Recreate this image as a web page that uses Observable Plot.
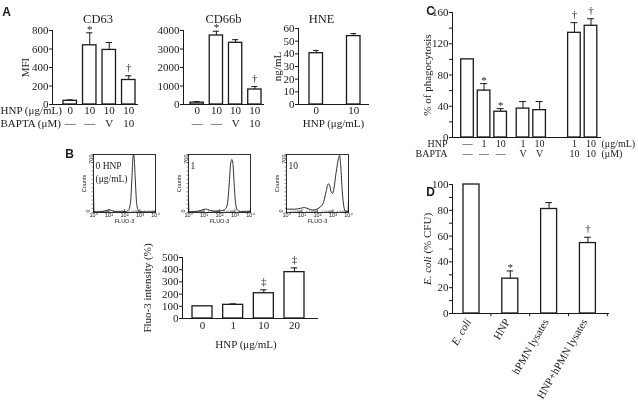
<!DOCTYPE html>
<html><head><meta charset="utf-8">
<script src="https://cdn.jsdelivr.net/npm/d3@7"></script>
<script src="https://cdn.jsdelivr.net/npm/@observablehq/plot@0.6"></script>
<style>
body{margin:0;background:#fff}
#fig{position:relative;width:638px;height:411px;overflow:hidden;background:#fff}
#fig svg{position:absolute;left:0;top:0;overflow:visible;will-change:transform}
</style></head><body><div id="fig"></div>
<script>
// ---------- data ----------
// Panel A
const aCats = ["c1","c2","c3","c4"];
const aHnp = ["0","10","10","10"];
const aBapta = ["—","—","V","10"];
const cd63Val = [40, 640, 590, 265];
const cd63Err = [10, 135, 80, 45];
const cd63Sig = ["", "*", "", "†"];
const cd63Ticks = [0, 200, 400, 600, 800];
const cd66Val = [100, 3730, 3335, 810];
const cd66Err = [60, 230, 170, 160];
const cd66Sig = ["", "*", "", "†"];
const cd66Ticks = [0, 1000, 2000, 3000, 4000];
const hneCats = ["0", "10"];
const hneVal = [40.5, 54];
const hneErr = [2.2, 2];
const hneTicks = [0, 10, 20, 30, 40, 50, 60];
// Panel B
const bCats = ["0", "1", "10", "20"];
const bVal = [100, 112, 207, 380];
const bErr = [0, 8, 28, 35];
const bSig = ["", "", "‡", "‡"];
const bTicks = [0, 100, 200, 300, 400, 500];
const histLabels = ["0 HNP\n(μg/mL)", "1", "10"];
const histXLabels = ["10⁰", "10¹", "10²", "10³", "10⁴"];
// [log10 FLUO-3, counts]
const hist0 = [[0,340],[0.03,14],[0.3,8],[0.6,12],[0.8,22],[1.0,32],[1.2,22],[1.45,10],[1.8,8],[2.1,12],[2.28,35],[2.4,150],[2.48,420],[2.54,650],[2.58,700],[2.63,640],[2.7,380],[2.78,120],[2.88,30],[3.05,10],[3.5,6],[4,6]];
const hist1 = [[0,180],[0.03,10],[0.4,10],[0.8,25],[1.1,42],[1.35,28],[1.7,15],[2.0,18],[2.3,30],[2.5,90],[2.62,330],[2.72,590],[2.8,640],[2.88,560],[2.96,300],[3.05,100],[3.15,30],[3.4,10],[3.8,8],[3.98,8],[4,40]];
const hist10 = [[0,55],[0.05,40],[0.5,40],[0.9,50],[1.15,60],[1.4,45],[1.7,30],[2.0,45],[2.2,70],[2.4,130],[2.55,250],[2.7,345],[2.78,330],[2.9,240],[2.97,230],[3.05,280],[3.2,480],[3.35,650],[3.42,690],[3.5,560],[3.6,250],[3.7,70],[3.8,15],[3.97,10],[4,150]];
// Panel C
const cHnp = ["—","1","10","1","10","1","10"];
const cBapta = ["—","—","—","V","V","10","10"];
const cGroup = [0,0,0,1,1,2,2];
const cVal = [100, 60, 33, 37, 35, 134, 143];
const cErr = [0, 9, 4, 9, 11, 13, 9];
const cSig = ["", "*", "*", "", "", "†", "†"];
const cTicks = [0, 20, 40, 60, 80, 100, 120, 140, 160];
// Panel D
const dCats = ["E. coli", "HNP", "hPMN lysates", "HNP+hPMN lysates"];
const dVal = [100, 27, 81, 54.6];
const dErr = [0, 6, 5, 4.5];
const dSig = ["", "*", "", "†"];
const dTicks = [0, 10, 20, 30, 40, 50, 60, 70, 80, 90, 100];

// ---------- helpers ----------
const W = 638, H = 411;
const SERIF = "Liberation Serif";
const SANS = "Liberation Sans";
const INK = "#1a1a1a";
const fig = document.getElementById("fig");
function M(l, r, t, b) { return {marginLeft: l, marginRight: W - r, marginTop: t, marginBottom: H - b}; }
function mk(opts) {
  const p = Plot.plot({width: W, height: H,
    style: "background:transparent;font-family:'Liberation Serif','Times New Roman',serif;font-size:11px;color:#1a1a1a;overflow:visible",
    ...opts});
  fig.appendChild(p);
  return p;
}
const T = (o) => ({fontFamily: SERIF, fontSize: 11, fill: INK, textAnchor: "middle", ...o});
const symDy = {"*": 0, "†": -5, "‡": -5};
function rowsOf(cats, vals, errs, sigs) {
  return cats.map((c, i) => ({cat: c, val: vals[i], err: errs[i], top: vals[i] + errs[i], sig: sigs ? sigs[i] : ""}));
}
function barMarks(rows, capInset) {
  const e = rows.filter(d => d.err > 0);
  const out = [
    Plot.barY(rows, {x: "cat", y: "val", fill: "white", stroke: INK, strokeWidth: 1.3}),
    Plot.ruleX(e, {x: "cat", y1: "val", y2: "top", stroke: INK, strokeWidth: 1}),
    Plot.tickY(e, {x: "cat", y: "top", stroke: INK, strokeWidth: 1, insetLeft: capInset, insetRight: capInset})
  ];
  for (const s of ["*", "†", "‡"]) {
    out.push(Plot.text(rows.filter(d => d.sig === s), T({x: "cat", y: "top", text: "sig", lineAnchor: "bottom", dy: symDy[s]})));
  }
  return out;
}
function axesMarks(ticks, fmt) {
  return [
    Plot.axisY({ticks, tickSize: 3, tickPadding: 1, tickFormat: fmt || (d => String(d)), label: null, fontSize: 11, fontFamily: SERIF, stroke: INK, fill: INK}),
    Plot.frame({anchor: "left", stroke: INK, strokeWidth: 1}),
    Plot.frame({anchor: "bottom", stroke: INK, strokeWidth: 1})
  ];
}
const letter = (t, o) => Plot.text([t], T({frameAnchor: "top-left", fontFamily: SANS, fontWeight: "bold", fontSize: 12, ...o}));

// ---------- Panel A: CD63 ----------
mk({
  ...M(52, 137, 30, 104),
  x: {type: "band", domain: aCats, range: [63, 135], paddingInner: 0.31, paddingOuter: 0, round: false, axis: null},
  y: {domain: [0, 800], axis: null},
  marks: [
    ...barMarks(rowsOf(aCats, cd63Val, cd63Err, cd63Sig), 3.6),
    ...axesMarks(cd63Ticks),
    Plot.text(aCats, T({x: d => d, text: (d, i) => aHnp[i], frameAnchor: "bottom", dy: 9})),
    Plot.text(aCats, T({x: d => d, text: (d, i) => aBapta[i], frameAnchor: "bottom", dy: 22})),
    Plot.text(["HNP (μg/mL)"], T({frameAnchor: "bottom-left", dx: -52, dy: 9, textAnchor: "start"})),
    Plot.text(["BAPTA (μM)"], T({frameAnchor: "bottom-left", dx: -52, dy: 22, textAnchor: "start"})),
    Plot.text(["CD63"], T({frameAnchor: "top", dx: 3, dy: -16, fontSize: 12.5})),
    Plot.text(["MFI"], T({frameAnchor: "left", dx: -27, rotate: -90})),
    letter("A", {dx: -46, dy: -23})
  ]
});

// ---------- Panel A: CD66b ----------
mk({
  ...M(183, 263, 30, 104),
  x: {type: "band", domain: aCats, range: [190, 261], paddingInner: 0.31, paddingOuter: 0, round: false, axis: null},
  y: {domain: [0, 4000], axis: null},
  marks: [
    ...barMarks(rowsOf(aCats, cd66Val, cd66Err, cd66Sig), 3.6),
    ...axesMarks(cd66Ticks),
    Plot.text(aCats, T({x: d => d, text: (d, i) => aHnp[i], frameAnchor: "bottom", dy: 9})),
    Plot.text(aCats, T({x: d => d, text: (d, i) => aBapta[i], frameAnchor: "bottom", dy: 22})),
    Plot.text(["CD66b"], T({frameAnchor: "top", dx: 0, dy: -16, fontSize: 12.5}))
  ]
});

// ---------- Panel A: HNE ----------
mk({
  ...M(298, 368, 28, 104),
  x: {type: "band", domain: hneCats, range: [309, 360], paddingInner: 0.64, paddingOuter: 0, round: false, axis: null},
  y: {domain: [0, 60], axis: null},
  marks: [
    ...barMarks(rowsOf(hneCats, hneVal, hneErr), 4),
    ...axesMarks(hneTicks),
    Plot.text(hneCats, T({x: d => d, text: d => d, frameAnchor: "bottom", dy: 9})),
    Plot.text(["HNP (μg/mL)"], T({frameAnchor: "bottom", dy: 22})),
    Plot.text(["HNE"], T({frameAnchor: "top", dx: -12, dy: -14, fontSize: 12.5})),
    Plot.text(["ng/mL"], T({frameAnchor: "left", dx: -21, rotate: -90}))
  ]
});

// ---------- Panel B: histograms ----------
const majorX = [0, 1, 2, 3, 4];
const minorX = [];
for (let n = 0; n < 4; n++) for (let k = 2; k <= 9; k++) minorX.push(n + Math.log10(k));
const yMinor = d3.range(0, 701, 50);
const S = (o) => ({fontFamily: SANS, fontSize: 5.5, fill: INK, textAnchor: "middle", ...o});
function hist(data, l, r, t, b, label, extra) {
  mk({
    ...M(l, r, t, b),
    x: {domain: [0, 4], axis: null},
    y: {domain: [0, 700], axis: null},
    marks: [
      Plot.ruleX(minorX, {x: d => d, y1: 0, y2: 18, stroke: INK, strokeWidth: 0.5}),
      Plot.ruleX(majorX, {x: d => d, y1: 0, y2: 36, stroke: INK, strokeWidth: 0.6}),
      Plot.ruleY(yMinor, {y: d => d, x1: -0.09, x2: 0, stroke: INK, strokeWidth: 0.5}),
      Plot.line(data, {x: d => d[0], y: d => d[1], curve: "monotone-x", stroke: INK, strokeWidth: 0.9}),
      Plot.frame({stroke: INK, strokeWidth: 0.9}),
      Plot.text(majorX, S({x: d => d, text: (d, i) => histXLabels[i], frameAnchor: "bottom", dy: 4})),
      Plot.text(["FLUO-3"], S({frameAnchor: "bottom", dy: 10})),
      Plot.text(["700"], S({frameAnchor: "top-left", dx: -4, rotate: -90, textAnchor: "end"})),
      Plot.text(["0"], S({frameAnchor: "bottom-left", dx: -4, rotate: -90, textAnchor: "start"})),
      Plot.text(["Counts"], S({frameAnchor: "left", dx: -9, rotate: -90})),
      Plot.text([label], T({frameAnchor: "top-left", dx: 2, dy: 5, lineAnchor: "top", textAnchor: "start", fontSize: 9.5, lineHeight: 1.4})),
      ...(extra || [])
    ]
  });
}
hist(hist0, 93, 155, 154, 212, histLabels[0], [letter("B", {dx: -24, dy: -5})]);
hist(hist1, 188, 250, 154, 212, histLabels[1]);
hist(hist10, 286, 348, 154, 212, histLabels[2]);

// ---------- Panel B: Fluo-3 bars ----------
mk({
  ...M(182, 317, 257, 318),
  x: {type: "band", domain: bCats, range: [192, 304], paddingInner: 0.348, paddingOuter: 0, round: false, axis: null},
  y: {domain: [0, 500], axis: null},
  marks: [
    ...barMarks(rowsOf(bCats, bVal, bErr, bSig), 6.7),
    ...axesMarks(bTicks),
    Plot.text(bCats, T({x: d => d, text: d => d, frameAnchor: "bottom", dy: 10})),
    Plot.text(["HNP (μg/mL)"], T({frameAnchor: "bottom", dx: -4, dy: 29})),
    Plot.text(["Fluo-3 intensity (%)"], T({frameAnchor: "left", dx: -35, rotate: -90}))
  ]
});

// ---------- Panel C ----------
const cGapOffset = [0, 0.35, 1.45];
const cRows = cVal.map((v, i) => ({pos: i + cGapOffset[cGroup[i]], val: v, err: cErr[i], top: v + cErr[i], sig: cSig[i], hnp: cHnp[i], bapta: cBapta[i]}));
const cE = cRows.filter(d => d.err > 0);
mk({
  ...M(452, 600, 12, 137),
  x: {domain: [0, 7.45], range: [467, 590.5], axis: null},
  y: {domain: [0, 160], axis: null},
  marks: [
    Plot.rectY(cRows, {x1: d => d.pos - 0.38, x2: d => d.pos + 0.38, y1: 0, y2: "val", fill: "white", stroke: INK, strokeWidth: 1.3}),
    Plot.ruleX(cE, {x: "pos", y1: "val", y2: "top", stroke: INK, strokeWidth: 1}),
    Plot.ruleY(cE, {y: "top", x1: d => d.pos - 0.21, x2: d => d.pos + 0.21, stroke: INK, strokeWidth: 1}),
    Plot.text(cRows.filter(d => d.sig === "*"), T({x: "pos", y: "top", text: "sig", lineAnchor: "bottom", dy: symDy["*"]})),
    Plot.text(cRows.filter(d => d.sig === "†"), T({x: "pos", y: "top", text: "sig", lineAnchor: "bottom", dy: symDy["†"]})),
    ...axesMarks(cTicks, d => d % 40 === 0 ? String(d) : ""),
    Plot.text(cRows, T({x: "pos", text: "hnp", frameAnchor: "bottom", dy: 9, fontSize: 10})),
    Plot.text(cRows, T({x: "pos", text: "bapta", frameAnchor: "bottom", dy: 19, fontSize: 10})),
    Plot.text(["HNP"], T({frameAnchor: "bottom-left", dx: -5, dy: 9, textAnchor: "end", fontSize: 10})),
    Plot.text(["BAPTA"], T({frameAnchor: "bottom-left", dx: -5, dy: 19, textAnchor: "end", fontSize: 10})),
    Plot.text(["(μg/mL)"], T({frameAnchor: "bottom-right", dx: 1, dy: 9, textAnchor: "start", fontSize: 10})),
    Plot.text(["(μM)"], T({frameAnchor: "bottom-right", dx: 1, dy: 19, textAnchor: "start", fontSize: 10})),
    Plot.text(["% of phagocytosis"], T({frameAnchor: "left", dx: -25, rotate: -90})),
    letter("C", {dx: -22, dy: -6})
  ]
});

// ---------- Panel D ----------
const dRange = [463, 595.4], dPI = 0.588;
const dStep = (dRange[1] - dRange[0]) / (dCats.length - dPI);
const dPlot = mk({
  ...M(452, 608, 184, 313),
  x: {type: "band", domain: dCats, range: dRange, paddingInner: dPI, paddingOuter: 0, round: false, axis: null},
  y: {domain: [0, 100], axis: null},
  marks: [
    ...barMarks(rowsOf(dCats, dVal, dErr, dSig), 4.7),
    ...axesMarks(dTicks, d => d % 20 === 0 ? String(d) : ""),
    Plot.ruleX(dCats, {x: d => d, dx: dStep / 2, y1: 0, y2: -2.5, stroke: INK, strokeWidth: 1}),
    Plot.text(dCats.filter(d => d === "E. coli"), T({x: d => d, text: d => d, frameAnchor: "bottom", dy: 8, rotate: -60, textAnchor: "end", fontStyle: "italic"})),
    Plot.text(dCats.filter(d => d !== "E. coli"), T({x: d => d, text: d => d, frameAnchor: "bottom", dy: 8, rotate: -60, textAnchor: "end"})),
    Plot.text(["E. coli (% CFU)"], T({frameAnchor: "left", dx: -25, rotate: -90})),
    letter("D", {dx: -22, dy: 3})
  ]
});
for (const t of dPlot.querySelectorAll("text")) {
  if (t.textContent === "E. coli (% CFU)") {
    t.textContent = "";
    const a = document.createElementNS("http://www.w3.org/2000/svg", "tspan");
    a.setAttribute("font-style", "italic"); a.textContent = "E. coli";
    const b = document.createElementNS("http://www.w3.org/2000/svg", "tspan");
    b.textContent = " (% CFU)";
    t.appendChild(a); t.appendChild(b);
  }
}
</script></body></html>
